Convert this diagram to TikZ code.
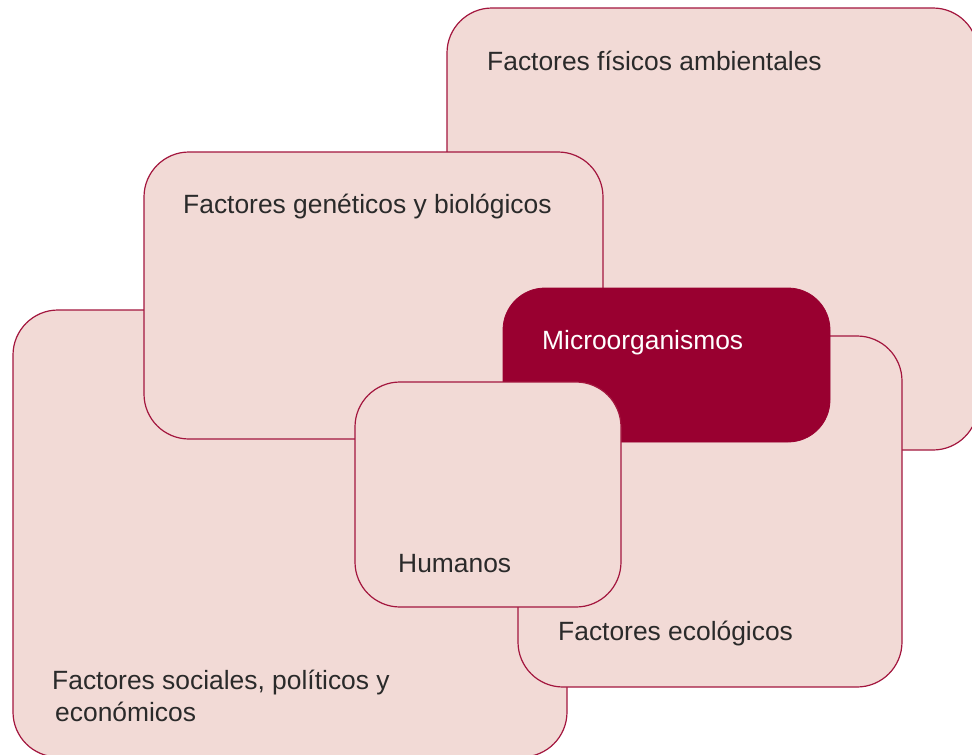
\documentclass[tikz,border=0pt]{standalone}
\usepackage{fontspec}
\setmainfont{Liberation Sans}
\definecolor{boxfill}{RGB}{242,218,214}
\definecolor{boxline}{RGB}{163,22,62}
\definecolor{microfill}{RGB}{153,0,48}
\definecolor{txt}{RGB}{42,42,42}
\begin{document}
\begin{tikzpicture}[x=1pt,y=-1pt,
  box/.style={fill=boxfill,draw=boxline,line width=1.2pt,rounded corners=45pt},
  microbox/.style={fill=microfill,draw=microfill,line width=0.8pt,rounded corners=42pt},
  label/.style={anchor=base west,inner sep=0pt,text=txt,font=\fontsize{26.4}{32}\selectfont},
  whitelabel/.style={label,text=white}]
\useasboundingbox (0,0) rectangle (972,755);
\clip (0,0) rectangle (972,755);
% boxes, back to front
\draw[box] (447,8) rectangle (978,450);
\draw[box] (13,310) rectangle (567,757);
\draw[box] (144,152) rectangle (603,439);
\draw[box] (518,336) rectangle (902,687);
\draw[microbox] (503,288) rectangle (830,442);
\draw[box] (355,382) rectangle (621,607);
% labels
\node[label] (fis) at (487,70) {Factores físicos ambientales};
\node[label] (gen) at (183,213) {Factores genéticos y biológicos};
\node[whitelabel] (mic) at (542,349) {Microorganismos};
\node[label] (hum) at (398,572) {Humanos};
\node[label] (eco) at (558,640) {Factores ecológicos};
\node[label] (soc1) at (52,689) {Factores sociales, políticos y};
\node[label] (soc2) at (55,721) {económicos};
\end{tikzpicture}
\end{document}
